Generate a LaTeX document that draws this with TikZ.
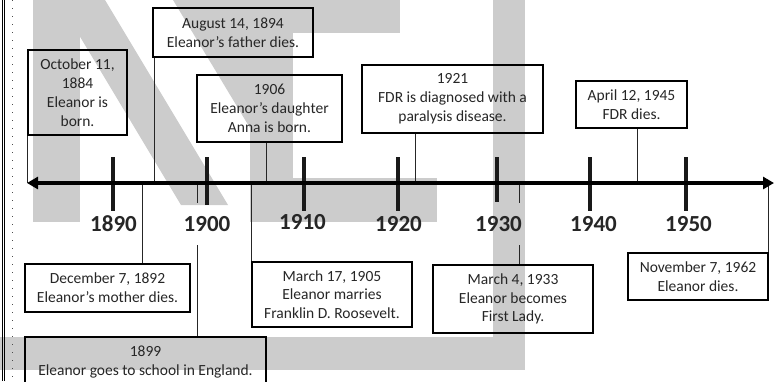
\documentclass[tikz,border=0pt]{standalone}
\usepackage{fontspec}
\setmainfont{Carlito}
\usetikzlibrary{arrows.meta}
\definecolor{wm}{RGB}{204,204,204}
\definecolor{txt}{RGB}{38,38,38}
\begin{document}
\begin{tikzpicture}[x=1pt,y=-1pt,
  evbox/.style={draw=black,line width=1.1pt,align=center,text=txt,
    font=\fontsize{15.5}{18.8}\selectfont,inner sep=0pt},
  conn/.style={draw=black!85,line width=0.9pt},
  yearlbl/.style={font=\bfseries\fontsize{23}{23}\selectfont,text=black!85,
    minimum height=42pt,inner sep=0pt},
  tickmark/.style={line width=4pt,draw=black!90},
  wmark/.style={fill=wm}]
\useasboundingbox (0,0) rectangle (783,381);
% watermark shapes
\fill[wmark] (33,0) rectangle (80,222);
\fill[wmark] (58,0) -- (105,0) -- (228,205) -- (181,205) -- cycle;
\fill[wmark] (173,0) -- (250,0) -- (250,128) -- cycle;
\fill[wmark] (250,0) rectangle (293,222);
\fill[wmark] (250,0) rectangle (400,33);
\fill[wmark] (250,178) rectangle (437,222);
\fill[wmark] (493,0) rectangle (525,370);
\fill[wmark] (0,337) rectangle (525,370);
% left border
\draw[line width=0.8pt] (2,0) -- (2,381);
\draw[line width=0.8pt] (4.8,0) -- (4.8,381);
\draw[line width=1.3pt,dash pattern=on 1.3pt off 6.7pt,black!70] (12.7,0) -- (12.7,381);
% axis
\coordinate (axL) at (27,183);
\coordinate (axR) at (774,183);
% event boxes
\node[evbox,minimum width=99pt,minimum height=85pt] (bOct) at (77.5,92.5) {October 11,\\1884\\Eleanor is\\born.};
\node[evbox,minimum width=160pt,minimum height=49pt] (bAug) at (233,32.5) {August 14, 1894\\Eleanor’s father dies.};
\node[evbox,minimum width=145pt,minimum height=67pt] (b1906) at (269.5,108.5) {1906\\Eleanor’s daughter\\Anna is born.};
\node[evbox,minimum width=181pt,minimum height=68pt] (b1921) at (452.5,99) {1921\\FDR is diagnosed with a\\paralysis disease.};
\node[evbox,minimum width=111pt,minimum height=47pt] (bApr) at (631.5,104.5) {April 12, 1945\\FDR dies.};
\node[evbox,minimum width=165pt,minimum height=48pt] (bDec) at (107.5,288) {December 7, 1892\\Eleanor’s mother dies.};
\node[evbox,minimum width=241pt,minimum height=50pt] (b1899) at (145.5,362) {1899\\Eleanor goes to school in England.};
\node[evbox,minimum width=160pt,minimum height=65pt] (bMar17) at (332,294.5) {March 17, 1905\\Eleanor marries\\Franklin D. Roosevelt.};
\node[evbox,minimum width=160pt,minimum height=68pt] (bMar4) at (513,299) {March 4, 1933\\Eleanor becomes\\First Lady.};
\node[evbox,minimum width=140pt,minimum height=47pt] (bNov) at (698,276.5) {November 7, 1962\\Eleanor dies.};
% year labels
\node[yearlbl] (l1890) at (113.5,224) {1890};
\node[yearlbl] (l1900) at (207,224) {1900};
\node[yearlbl] (l1910) at (302.5,222) {1910};
\node[yearlbl] (l1920) at (398.5,224) {1920};
\node[yearlbl] (l1930) at (498.5,224) {1930};
\node[yearlbl] (l1940) at (593.5,224) {1940};
\node[yearlbl] (l1950) at (688.5,224) {1950};
% connector anchor points
\coordinate (c1906) at ([xshift=-3.5pt]b1906.south);
\coordinate (c1921) at ([xshift=-37.5pt]b1921.south);
\coordinate (cApr) at ([xshift=5.5pt]bApr.south);
\coordinate (cAug) at ([xshift=1.7pt]bAug.south west);
\coordinate (cDec) at ([xshift=34.5pt]bDec.north);
\coordinate (c1899) at ([xshift=51.5pt]b1899.north);
\coordinate (cMar4) at ([xshift=6pt]bMar4.north);
% connectors
\draw[conn] (bOct.south west) -- (bOct.south west |- axL);
\draw[conn] (cAug |- bAug.south) -- (cAug |- axL);
\draw[conn] (c1906) -- (c1906 |- axL);
\draw[conn] (c1921) -- (c1921 |- axL);
\draw[conn] (cApr) -- (cApr |- axL);
\draw[conn] (cDec |- axL) -- (cDec);
\draw[conn] (c1899 |- axL) -- (c1899 |- l1900.north);
\draw[conn] (c1899 |- l1900.south) -- (c1899);
\draw[conn] (bMar17.north west |- axL) -- (bMar17.north west);
\draw[conn] (cMar4 |- axL) -- (cMar4 |- l1930.north);
\draw[conn] (cMar4 |- l1930.south) -- (cMar4);
\draw[conn] (bNov.north east |- axL) -- (bNov.north east);
% ticks
\foreach \x/\b in {113/211,207/205,304/211,398/211,497/202,590/211,686/211}
  \draw[tickmark] (\x,157) -- (\x,\b);
% axis line
\draw[line width=3.5pt,{Triangle[length=11pt,width=12pt]}-{Triangle[length=11pt,width=12pt]}] (axL) -- (axR);
\end{tikzpicture}
\end{document}
